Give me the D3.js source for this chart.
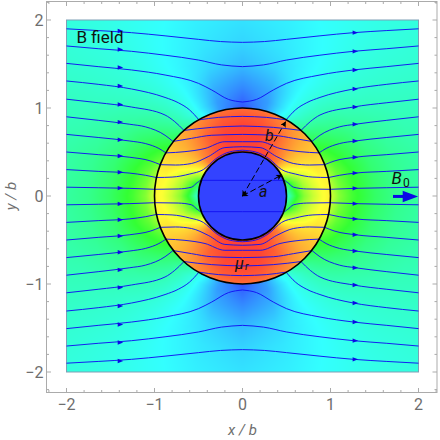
<!DOCTYPE html>
<html>
<head>
<meta charset="utf-8">
<script src="https://cdnjs.cloudflare.com/ajax/libs/d3/7.8.5/d3.min.js"></script>
<style>
  html, body { margin: 0; padding: 0; background: #fff; }
  text { font-family: Roboto, sans-serif; }
</style>
</head>
<body>
<div id="chart"></div>
<script>
// field strength as hue position (0 blue .. 1 red) for one quadrant
const angles = [0, 15, 30, 45, 60, 75, 90];
const outerRadii = [1, 1.1, 1.25, 1.5, 1.75, 2, 2.4, 2.83];
const outerField = [
  [.70, .64, .52, .42, .30, .13, .04],
  [.60, .56, .49, .38, .27, .13, .07],
  [.52, .50, .44, .35, .26, .15, .11],
  [.44, .42, .38, .32, .25, .20, .17],
  [.39, .38, .35, .30, .25, .22, .20],
  [.365, .36, .33, .295, .255, .23, .215],
  [.35, .34, .32, .29, .265, .245, .235],
  [.34, .33, .31, .29, .28, .26, .25]
];
const shellRadii = [.5, .6, .7, .8, .9, 1];
const shellField = [
  [.28, .42, .70, .92, .98, .98, .98],
  [.47, .56, .75, .90, .96, .98, .98],
  [.60, .66, .79, .88, .95, .98, .98],
  [.68, .72, .80, .87, .94, .97, .98],
  [.74, .76, .81, .86, .91, .95, .96],
  [.77, .76, .81, .85, .89, .92, .93]
];
const coreField = .02;

// streamlines in the first quadrant, outside the shell (x, y)
const outerLines = [
  [[0, 1.746], [.25, 1.755], [.5, 1.78], [.88, 1.82], [1.26, 1.856], [1.64, 1.88], [2, 1.9]],
  [[0, 1.47], [.24, 1.49], [.5, 1.545], [.88, 1.6], [1.26, 1.644], [1.64, 1.674], [2, 1.705]],
  [[0, 1.068], [.16, 1.098], [.35, 1.205], [.5, 1.28], [.88, 1.375], [1.26, 1.432], [1.64, 1.47], [2, 1.507]],
  [[.495, .865], [.6, .977], [.73, 1.06], [.88, 1.12], [1.26, 1.216], [1.64, 1.269], [2, 1.307]],
  [[.665, .745], [.77, .845], [.88, .92], [1.26, 1.011], [1.64, 1.06], [2, 1.1]],
  [[.79, .62], [.88, .69], [1.1, .785], [1.28, .815], [1.64, .86], [2, .9]],
  [[.87, .49], [.95, .54], [1.1, .595], [1.28, .625], [1.64, .665], [2, .7]],
  [[.934, .356], [1.05, .4], [1.28, .44], [1.64, .47], [2, .5]],
  [[.978, .21], [1.1, .235], [1.28, .26], [1.64, .28], [2, .3]],
  [[.997, .076], [1.28, .087], [1.64, .094], [2, .1]]
];
// same lines inside the shell and the core
const innerLines = [
  [[0, .905], [.275, .893], [.495, .865]],
  [[0, .795], [.35, .78], [.665, .745]],
  [[0, .7], [.35, .69], [.58, .655], [.79, .62]],
  [[0, .617], [.2, .617], [.426, .54], [.654, .504], [.87, .49]],
  [[0, .56], [.2, .55], [.39, .447], [.577, .37], [.76, .352], [.934, .356]],
  [[0, .52], [.15, .5], [.3, .425], [.445, .3], [.6, .25], [.8, .215], [.978, .21]],
  [[0, .178], [.47, .178], [.51, .155], [.58, .1], [.73, .08], [.997, .076]]
];
// height of the arrowhead on each line, at the left and right arrow columns
const arrowRight = [1.856, 1.644, 1.432, 1.216, 1.011, .815, .625, .44, .26, .087];
const arrowLeft = [1.875, 1.665, 1.46, 1.25, 1.04, .84, .64, .455, .27, .09];
const arrowColumns = [-1.39, 1.28];

const tickValues = [-2, -1, 0, 1, 2];
const minorTicks = d3.range(-2.2, 2.21, .2).map(d => +d.toFixed(1));

// draw
const width = 440, height = 440;
const x = d3.scaleLinear().domain([-2, 2]).range([66.5, 418.5]);
const y = d3.scaleLinear().domain([-2, 2]).range([372, 20]);
const frame = { left: 46.5, right: 437, top: 1.5, bottom: 392.5 };

const svg = d3.select("#chart").append("svg")
  .attr("width", width)
  .attr("height", height)
  .style("display", "block");

const hue = t => d3.rgb(d3.hsl(240 * (1 - t), 1, .6));

function lookup(radii, table, r, a) {
  const ri = Math.max(0, Math.min(radii.length - 2, d3.bisectRight(radii, r) - 1));
  const ai = Math.max(0, Math.min(angles.length - 2, d3.bisectRight(angles, a) - 1));
  const u = Math.max(0, Math.min(1, (r - radii[ri]) / (radii[ri + 1] - radii[ri])));
  const v = (a - angles[ai]) / (angles[ai + 1] - angles[ai]);
  return d3.interpolateNumber(
    d3.interpolateNumber(table[ri][ai], table[ri][ai + 1])(v),
    d3.interpolateNumber(table[ri + 1][ai], table[ri + 1][ai + 1])(v)
  )(u);
}

// background field goes on a canvas, then into the svg as an image
const canvas = document.createElement("canvas");
canvas.width = 352;
canvas.height = 352;
const ctx = canvas.getContext("2d");
const img = ctx.createImageData(352, 352);
for (let j = 0; j < 352; j++) {
  for (let i = 0; i < 352; i++) {
    const px = Math.abs(x.invert(66.5 + i + .5)), py = Math.abs(y.invert(20 + j + .5));
    const r = Math.hypot(px, py), a = Math.atan2(py, px) * 180 / Math.PI;
    const t = r < .5 ? coreField : lookup(r < 1 ? shellRadii : outerRadii, r < 1 ? shellField : outerField, r, a);
    const c = hue(t), k = (j * 352 + i) * 4;
    img.data[k] = c.r; img.data[k + 1] = c.g; img.data[k + 2] = c.b; img.data[k + 3] = 255;
  }
}
ctx.putImageData(img, 0, 0);

svg.append("image")
  .attr("x", x(-2)).attr("y", y(2))
  .attr("width", 352).attr("height", 352)
  .attr("href", canvas.toDataURL());
svg.append("rect")
  .attr("x", x(-2)).attr("y", y(2))
  .attr("width", 352).attr("height", 352)
  .attr("fill", "none")
  .attr("stroke", "#7f9fb5")
  .attr("stroke-width", 1);

// streamlines, mirrored into all four quadrants
const line = d3.line().x(d => x(d[0])).y(d => y(d[1])).curve(d3.curveMonotoneX);
const signs = [[1, 1], [-1, 1], [1, -1], [-1, -1]];
const lines = svg.append("g").attr("fill", "none").attr("stroke", "#1212f2").attr("stroke-width", .95);
signs.forEach(s => {
  outerLines.concat(innerLines).forEach(pts => {
    const m = pts.map(p => [p[0] * s[0], p[1] * s[1]]);
    lines.append("path").attr("d", line(s[0] < 0 ? m.reverse() : m));
  });
});

// arrowheads
const heads = svg.append("g").attr("fill", "#0a0ae6");
arrowColumns.forEach(cx => {
  const levels = cx < 0 ? arrowLeft : arrowRight;
  [1, -1].forEach(sg => levels.forEach(v => {
    const px = x(cx), py = y(v * sg);
    heads.append("path").attr("d", `M${px - 2.5},${py - 2.2}L${px + 3},${py}L${px - 2.5},${py + 2.2}Z`);
  }));
});

// shell outlines
[.5, 1].forEach(r => {
  svg.append("circle")
    .attr("cx", x(0)).attr("cy", y(0))
    .attr("r", x(r) - x(0))
    .attr("fill", "none")
    .attr("stroke", "#000")
    .attr("stroke-width", 1.6);
});

// dashed radius arrows
const defs = svg.append("defs");
defs.append("marker").attr("id", "tip")
  .attr("viewBox", "0 0 10 10").attr("refX", 9).attr("refY", 5)
  .attr("markerWidth", 7).attr("markerHeight", 6)
  .attr("markerUnits", "userSpaceOnUse")
  .attr("orient", "auto-start-reverse")
  .append("path").attr("d", "M0,0L10,5L0,10L2.5,5Z").attr("fill", "#000");
[[.445, .239], [.49, .844]].forEach(p => {
  svg.append("line")
    .attr("x1", x(0)).attr("y1", y(0))
    .attr("x2", x(p[0])).attr("y2", y(p[1]))
    .attr("stroke", "#000").attr("stroke-width", 1)
    .attr("stroke-dasharray", "6,3")
    .attr("marker-start", "url(#tip)")
    .attr("marker-end", "url(#tip)");
});

// B0 arrow
svg.append("path")
  .attr("d", `M${x(1.71)},${y(-.005)}H${x(1.86)}`)
  .attr("stroke", "#0a0ae6").attr("stroke-width", 3);
svg.append("path")
  .attr("d", `M${x(1.82)},${y(.06)}L${x(1.995)},${y(-.005)}L${x(1.82)},${y(-.07)}Z`)
  .attr("fill", "#0a0ae6");

// labels on the picture
const note = (tx, ty, s, size, italic) => svg.append("text")
  .attr("x", tx).attr("y", ty).attr("font-size", size)
  .attr("font-style", italic ? "italic" : "normal")
  .attr("fill", "#111").text(s);
note(76.5, 42.5, "B field", 17, false);
note(391.5, 184, "B", 17, true);
note(403, 187, "0", 12, false);
note(259, 197, "a", 16, true);
note(265, 141, "b", 16, true);
note(235, 269, "μ", 16, true);
note(245, 270, "r", 11, true);

// frame, ticks and labels
const axisGrey = "#ababab", labelGrey = "#6e6e6e";
svg.append("rect")
  .attr("x", frame.left).attr("y", frame.top)
  .attr("width", frame.right - frame.left).attr("height", frame.bottom - frame.top)
  .attr("fill", "none").attr("stroke", axisGrey).attr("stroke-width", 1);

const ticks = svg.append("g").attr("stroke", axisGrey).attr("stroke-width", 1);
minorTicks.forEach(v => {
  const len = tickValues.includes(v) ? 4.5 : 2.5;
  if (x(v) > frame.left && x(v) < frame.right) {
    ticks.append("line").attr("x1", x(v)).attr("x2", x(v)).attr("y1", frame.bottom).attr("y2", frame.bottom - len);
    ticks.append("line").attr("x1", x(v)).attr("x2", x(v)).attr("y1", frame.top).attr("y2", frame.top + len);
  }
  if (y(v) > frame.top && y(v) < frame.bottom) {
    ticks.append("line").attr("y1", y(v)).attr("y2", y(v)).attr("x1", frame.left).attr("x2", frame.left + len);
    ticks.append("line").attr("y1", y(v)).attr("y2", y(v)).attr("x1", frame.right).attr("x2", frame.right - len);
  }
});

const fmt = v => (v < 0 ? "\u2212" + (-v) : "" + v);
svg.append("g").selectAll("text").data(tickValues).join("text")
  .attr("x", d => x(d)).attr("y", 410)
  .attr("text-anchor", "middle")
  .attr("font-size", 16).attr("fill", labelGrey)
  .text(fmt);
svg.append("g").selectAll("text").data(tickValues).join("text")
  .attr("x", 43.5).attr("y", d => y(d) + 5.5)
  .attr("text-anchor", "end")
  .attr("font-size", 16).attr("fill", labelGrey)
  .text(fmt);

svg.append("text")
  .attr("x", x(0)).attr("y", 435)
  .attr("text-anchor", "middle")
  .attr("font-size", 15).attr("font-style", "italic").attr("fill", labelGrey)
  .text("x / b");
svg.append("text")
  .attr("transform", `translate(16,${y(0)}) rotate(-90)`)
  .attr("text-anchor", "middle")
  .attr("font-size", 15).attr("font-style", "italic").attr("fill", labelGrey)
  .text("y / b");
</script>
</body>
</html>
